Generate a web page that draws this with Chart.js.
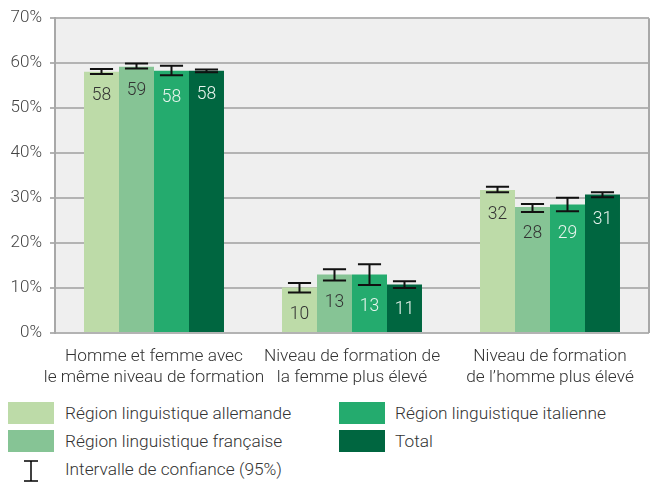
<!DOCTYPE html>
<html>
<head>
<meta charset="utf-8">
<script src="https://cdn.jsdelivr.net/npm/chart.js@4"></script>
<style>
  body { margin: 0; background: #fff; font-family: Roboto, sans-serif; }
  #wrap { position: relative; width: 650px; height: 496px; }
  #chart-box { position: absolute; left: 0; top: 0; width: 650px; height: 396px; }
  .leg { position: absolute; font-size: 17.3px; font-weight: 300; color: #333; line-height: 20px; }
  .sw { position: absolute; width: 46px; height: 22px; }
</style>
</head>
<body>
<div id="wrap">
  <div id="chart-box"><canvas id="ratio-chart"></canvas></div>
  <div class="sw" style="left:8px;top:402px;background:#bddba8"></div>
  <div class="leg" style="left:65px;top:403px">Région linguistique allemande</div>
  <div class="sw" style="left:8px;top:430px;background:#86c495"></div>
  <div class="leg" style="left:65px;top:431px">Région linguistique française</div>
  <div class="sw" style="left:339px;top:402px;background:#24ab6e"></div>
  <div class="leg" style="left:395px;top:403px">Région linguistique italienne</div>
  <div class="sw" style="left:339px;top:430px;background:#006640"></div>
  <div class="leg" style="left:395px;top:431px">Total</div>
  <svg style="position:absolute;left:22px;top:459px" width="18" height="24">
    <line x1="2" y1="2" x2="16" y2="2" stroke="#000" stroke-width="1.5"/>
    <line x1="9" y1="2" x2="9" y2="22" stroke="#000" stroke-width="1.5"/>
    <line x1="2" y1="22" x2="16" y2="22" stroke="#000" stroke-width="1.5"/>
  </svg>
  <div class="leg" style="left:65px;top:459px">Intervalle de confiance (95%)</div>
</div>
<script>
const categories = [
    ['Homme et femme avec', 'le même niveau de formation'],
    ['Niveau de formation de', 'la femme plus élevé'],
    ['Niveau de formation', 'de l\u2019homme plus élevé']
];
const seriesNames = ['Région linguistique allemande', 'Région linguistique française', 'Région linguistique italienne', 'Total'];

const allemande = [58.1, 10.1, 31.8];
const allemandeLow = [57.6, 9.0, 31.3];
const allemandeHigh = [58.7, 11.1, 32.5];

const francaise = [59.2, 13.0, 28.0];
const francaiseLow = [58.8, 11.7, 26.9];
const francaiseHigh = [59.9, 14.2, 28.7];

const italienne = [58.3, 13.0, 28.6];
const italienneLow = [57.3, 10.7, 27.1];
const italienneHigh = [59.4, 15.3, 30.1];

const total = [58.3, 10.8, 30.8];
const totalLow = [58.0, 10.0, 30.2];
const totalHigh = [58.6, 11.5, 31.3];

const yTicks = [0, 10, 20, 30, 40, 50, 60, 70];

const colors = ['#bddba8', '#86c495', '#24ab6e', '#006640'];
const labelColors = ['#333333', '#333333', '#e8f4ee', '#e8f4ee'];

const series = [allemande, francaise, italienne, total];
const lows = [allemandeLow, francaiseLow, italienneLow, totalLow];
const highs = [allemandeHigh, francaiseHigh, italienneHigh, totalHigh];

// fond gris et cadre de la zone du graphique
const plotBg = {
    id: 'plotBg',
    beforeDraw(chart) {
        const a = chart.chartArea;
        const c = chart.ctx;
        c.save();
        c.fillStyle = '#efefef';
        c.fillRect(a.left, a.top, a.right - a.left, a.bottom - a.top);
        c.restore();
    },
    afterDatasetsDraw(chart) {
        const a = chart.chartArea;
        const c = chart.ctx;
        c.save();
        c.strokeStyle = '#a8a8a8';
        c.lineWidth = 2;
        c.beginPath();
        c.moveTo(a.right, a.top);
        c.lineTo(a.right, a.bottom);
        c.stroke();
        c.restore();
    }
};

// barres d'erreur + valeurs dans les barres
const errorBars = {
    id: 'errorBars',
    afterDatasetsDraw(chart) {
        const c = chart.ctx;
        const y = chart.scales.y;
        chart.data.datasets.forEach((ds, i) => {
            const meta = chart.getDatasetMeta(i);
            meta.data.forEach((bar, j) => {
                const lo = y.getPixelForValue(lows[i][j]);
                const hi = y.getPixelForValue(highs[i][j]);
                const cap = bar.width * 0.33;
                c.save();
                c.strokeStyle = '#111';
                c.lineWidth = 2;
                c.beginPath();
                c.moveTo(bar.x, hi); c.lineTo(bar.x, lo);
                c.moveTo(bar.x - cap, hi); c.lineTo(bar.x + cap, hi);
                c.moveTo(bar.x - cap, lo); c.lineTo(bar.x + cap, lo);
                c.stroke();
                c.fillStyle = labelColors[i];
                c.font = '300 17.5px Roboto';
                c.textAlign = 'center';
                c.textBaseline = 'middle';
                c.fillText(Math.round(ds.data[j]), bar.x, lo + 22);
                c.restore();
            });
        });
    }
};

const ctx = document.getElementById('ratio-chart').getContext('2d');
const ratioChart = new Chart(ctx, {
    type: 'bar',
    data: {
        labels: categories,
        datasets: series.map((d, i) => ({
            label: seriesNames[i],
            data: d,
            backgroundColor: colors[i],
            borderWidth: 0,
            barPercentage: 1,
            categoryPercentage: 0.707
        }))
    },
    options: {
        responsive: true,
        maintainAspectRatio: false,
        animation: false,
        layout: { padding: { top: 8, right: 1, left: 0, bottom: 0 } },
        plugins: {
            legend: { display: false },
            tooltip: { enabled: false }
        },
        scales: {
            x: {
                grid: { display: false, drawTicks: false },
                border: { display: false },
                ticks: {
                    color: '#333',
                    font: { family: 'Roboto', size: 17.3, weight: 300, lineHeight: 1.22 },
                    padding: 13,
                    maxRotation: 0,
                    autoSkip: false
                },
                afterFit(scale) { scale.height = 63; }
            },
            y: {
                min: 0,
                max: 70,
                afterBuildTicks(scale) {
                    scale.ticks = yTicks.map(v => ({ value: v }));
                },
                grid: { color: '#b3b3b3', lineWidth: 2, tickLength: 5 },
                border: { display: true, color: '#a8a8a8', width: 2 },
                ticks: {
                    color: '#444',
                    font: { family: 'Roboto', size: 17, weight: 300 },
                    padding: 8,
                    callback: v => v + '%'
                },
                afterFit(scale) { scale.width = 55; }
            }
        }
    },
    plugins: [plotBg, errorBars]
});
</script>
</body>
</html>
